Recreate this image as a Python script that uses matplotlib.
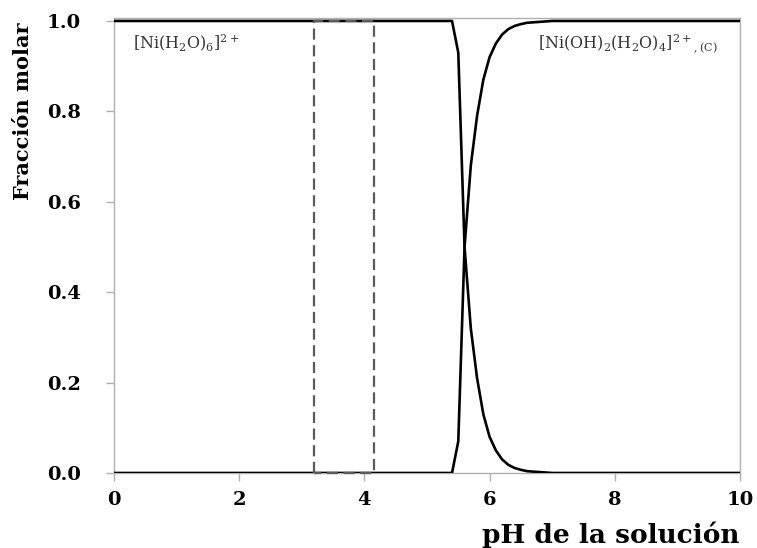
import matplotlib
matplotlib.use('Agg')
import matplotlib.pyplot as plt

plt.rcParams['font.family'] = ['DejaVu Serif']
plt.rcParams['mathtext.fontset'] = 'dejavuserif'

# pH de la solución (puntos de quiebre de la curva)
ph = [0.0, 5.4, 5.5, 5.6, 5.7, 5.8, 5.9, 6.0, 6.1, 6.2, 6.3, 6.4, 6.5, 6.6, 6.8, 7.0, 10.0]
# fracción molar [Ni(H2O)6]2+
f_hexa = [1.0, 1.0, 0.93, 0.50, 0.32, 0.21, 0.13, 0.08, 0.05, 0.03, 0.018, 0.011, 0.007, 0.004, 0.002, 0.0, 0.0]
# fracción molar [Ni(OH)2(H2O)4]2+
f_hidr = [0.0, 0.0, 0.07, 0.50, 0.68, 0.79, 0.87, 0.92, 0.95, 0.97, 0.982, 0.989, 0.993, 0.996, 0.998, 1.0, 1.0]

# zona marcada (rectángulo discontinuo)
zona_ph = [3.2, 4.15]

fig = plt.figure(figsize=(7.57, 5.48), dpi=100)
ax = fig.add_axes([0.1506, 0.1369, 0.8269, 0.8303])

ax.plot(ph, f_hexa, color='black', lw=1.9, zorder=3)
ax.plot(ph, f_hidr, color='black', lw=1.9, zorder=3)

# rectángulo discontinuo
x0, x1 = zona_ph
ax.plot([x0, x0, x1, x1, x0], [0, 1, 1, 0, 0], color='#5a5a5a', lw=1.6,
        ls=(0, (5, 2.5)), zorder=4, clip_on=False)

ax.set_xlim(0, 10)
ax.set_ylim(0, 1.0066)
ax.set_xticks([0, 2, 4, 6, 8, 10])
ax.set_yticks([0, 0.2, 0.4, 0.6, 0.8, 1.0])
ax.set_yticklabels(['0.0', '0.2', '0.4', '0.6', '0.8', '1.0'])

for s in ax.spines.values():
    s.set_color('#b0b0b0')
    s.set_linewidth(1.0)

ax.tick_params(direction='out', length=6, width=1, color='#b0b0b0',
               labelsize=14, pad=7)
ax.tick_params(axis='y', pad=18)
for lab in ax.get_xticklabels() + ax.get_yticklabels():
    lab.set_fontweight('bold')

ax.set_xlabel('pH de la solución', fontsize=19, fontweight='bold', loc='right', labelpad=9)
ax.set_ylabel('Fracción molar', fontsize=15, fontweight='bold', loc='top')
ax.yaxis.set_label_coords(-0.13, 0.99)

ax.text(0.3, 0.951, r'$\mathrm{[Ni(H_2O)_6]^{2+}}$', fontsize=11.5, color='#333333',
        ha='left', va='center')
ax.text(9.65, 0.951, r'$\mathrm{[Ni(OH)_2(H_2O)_4]^{2+}{}_{,(C)}}$', fontsize=11.5,
        color='#333333', ha='right', va='center')

fig.savefig('out.png', dpi=100)
